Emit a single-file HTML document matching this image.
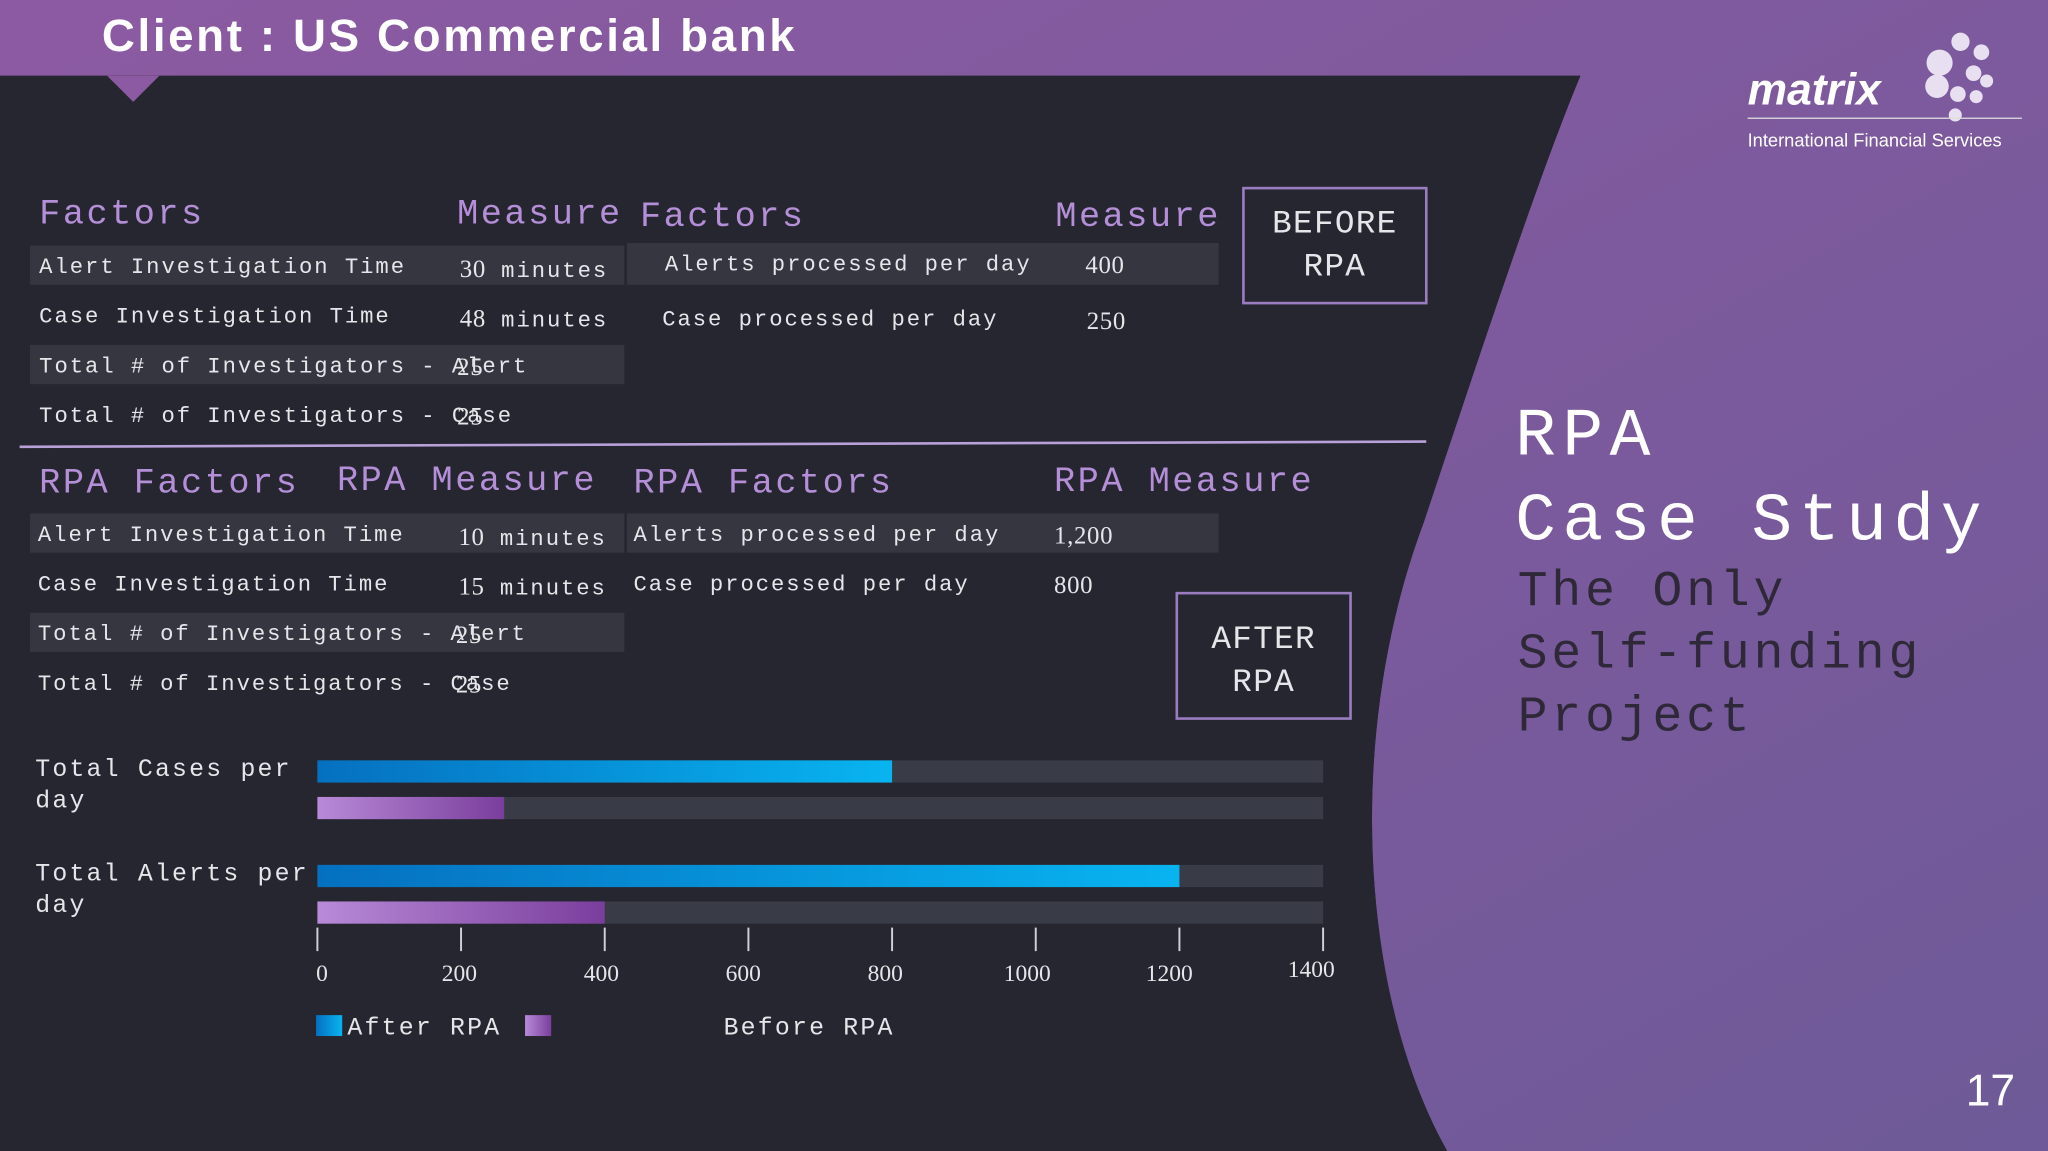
<!DOCTYPE html>
<html><head><meta charset="utf-8"><style>
html,body{margin:0;padding:0;background:#262630;overflow:hidden}
#stage{width:1568px;height:881px;position:relative;transform:scale(1.30612,1.30647);transform-origin:0 0;background:#262630;font-family:"Liberation Mono",monospace;color:#e6e6ea}
.a{position:absolute;white-space:nowrap}
.h{color:#b48fd8;font-size:27px;letter-spacing:1.9px;margin-top:4px}
.t{font-size:17px;letter-spacing:1.5px;margin-top:3px}
.n{font-family:"Liberation Serif",serif;font-size:19px;letter-spacing:0.5px}
.a.n{margin-top:3px}
.row{position:absolute;background:#363641}
.box{position:absolute;border:2px solid #9a7cc0;text-align:center;font-size:25px;line-height:33px;box-sizing:border-box;letter-spacing:1px}
</style></head><body>
<div id="stage">
<svg class="a" style="left:0;top:0" width="1568" height="881">
<defs><linearGradient id="pg" x1="0" y1="0" x2="1" y2="1"><stop offset="0" stop-color="#8c5aa2"/><stop offset="1" stop-color="#6e5a98"/></linearGradient></defs>
<path d="M0 0 H1568 V881 H1108 C1040 760 1030 560 1090 400 C1140 250 1180 130 1210 58 H0 Z" fill="url(#pg)"/>
<path d="M0 58 H1210 C1180 130 1140 250 1090 400 C1030 560 1040 760 1108 881 H0 Z" fill="#262630"/>
<path d="M82 58 L102 78 L122 58 Z" fill="#8c5aa2"/>
<line x1="15" y1="342" x2="1092" y2="338" stroke="#b8a0d8" stroke-width="2"/>
</svg>
<div class="a" style="left:78px;top:8px;font-family:'Liberation Sans',sans-serif;font-weight:bold;font-size:35px;letter-spacing:2px;color:#fff">Client : US Commercial bank</div>
<div class="a" style="left:1338px;top:50px;font-family:'Liberation Sans',sans-serif;font-weight:bold;font-style:italic;font-size:34px;color:#fff">matrix</div>
<svg class="a" style="left:1455px;top:20px" width="80" height="80"><g fill="#e8e0f0"><circle cx="30" cy="28" r="10"/><circle cx="46" cy="12" r="7"/><circle cx="62" cy="20" r="6"/><circle cx="28" cy="46" r="9"/><circle cx="56" cy="36" r="6"/><circle cx="66" cy="42" r="5"/><circle cx="44" cy="52" r="6"/><circle cx="58" cy="54" r="5"/><circle cx="42" cy="68" r="5"/></g></svg>
<div class="a" style="left:1338px;top:90px;width:210px;height:1px;background:#ddd"></div>
<div class="a" style="left:1338px;top:99px;font-family:'Liberation Sans',sans-serif;font-size:14px;color:#fff">International Financial Services</div>

<div class="row" style="left:23px;top:188px;width:455px;height:30px"></div>
<div class="row" style="left:480px;top:186px;width:453px;height:32px"></div>
<div class="row" style="left:23px;top:264px;width:455px;height:30px"></div>
<div class="row" style="left:23px;top:393px;width:455px;height:30px"></div>
<div class="row" style="left:480px;top:393px;width:453px;height:30px"></div>
<div class="row" style="left:23px;top:469px;width:455px;height:30px"></div>

<div class="a h" style="left:30px;top:146px">Factors</div>
<div class="a h" style="left:350px;top:146px">Measure</div>
<div class="a h" style="left:490px;top:148px">Factors</div>
<div class="a h" style="left:808px;top:148px">Measure</div>
<div class="a t" style="left:30px;top:193px">Alert Investigation Time</div>
<div class="a t" style="left:352px;top:193px"><span class="n">30</span> minutes</div>
<div class="a t" style="left:509px;top:191px">Alerts processed per day</div>
<div class="a n" style="left:831px;top:190px">400</div>
<div class="a t" style="left:30px;top:231px">Case Investigation Time</div>
<div class="a t" style="left:352px;top:231px"><span class="n">48</span> minutes</div>
<div class="a t" style="left:507px;top:233px">Case processed per day</div>
<div class="a n" style="left:832px;top:233px">250</div>
<div class="a t" style="left:30px;top:269px">Total # of Investigators - Alert</div>
<div class="a n" style="left:350px;top:268px">25</div>
<div class="a t" style="left:30px;top:307px">Total # of Investigators - Case</div>
<div class="a n" style="left:350px;top:306px">25</div>
<div class="box" style="left:951px;top:143px;width:142px;height:90px;padding-top:10px">BEFORE<br>RPA</div>

<div class="a h" style="left:30px;top:352px">RPA Factors</div>
<div class="a h" style="left:258px;top:350px">RPA Measure</div>
<div class="a h" style="left:485px;top:352px">RPA Factors</div>
<div class="a h" style="left:807px;top:351px">RPA Measure</div>
<div class="a t" style="left:29px;top:398px">Alert Investigation Time</div>
<div class="a t" style="left:351px;top:398px"><span class="n">10</span> minutes</div>
<div class="a t" style="left:485px;top:398px">Alerts processed per day</div>
<div class="a n" style="left:807px;top:397px">1,200</div>
<div class="a t" style="left:29px;top:436px">Case Investigation Time</div>
<div class="a t" style="left:351px;top:436px"><span class="n">15</span> minutes</div>
<div class="a t" style="left:485px;top:436px">Case processed per day</div>
<div class="a n" style="left:807px;top:435px">800</div>
<div class="a t" style="left:29px;top:474px">Total # of Investigators - Alert</div>
<div class="a n" style="left:349px;top:473px">25</div>
<div class="a t" style="left:29px;top:512px">Total # of Investigators - Case</div>
<div class="a n" style="left:349px;top:511px">25</div>
<div class="box" style="left:900px;top:453px;width:135px;height:98px;padding-top:18px">AFTER<br>RPA</div>

<div class="a" style="left:1160px;top:305px;font-size:52px;letter-spacing:5px;color:#fff">RPA</div>
<div class="a" style="left:1160px;top:370px;font-size:52px;letter-spacing:5px;color:#fff">Case Study</div>
<div class="a" style="left:1162px;top:430px;font-size:38px;line-height:48px;letter-spacing:3px;color:#2e2838">The Only<br>Self-funding<br>Project</div>
<div class="a" style="left:1505px;top:816px;font-family:'Liberation Sans',sans-serif;font-size:34px;color:#fff">17</div>

<svg id="chart" class="a" style="left:0;top:560px" width="1100" height="260"></svg>
</div>
<script>
const categories=["Total Cases per day","Total Alerts per day"];
const afterRPA=[800,1200];
const beforeRPA=[260,400];
const ticks=[0,200,400,600,800,1000,1200,1400];
const NS="http://www.w3.org/2000/svg";
const svg=document.getElementById('chart');
const x=v=>243+v*(1013-243)/1400;
function mk(t,a){const e=document.createElementNS(NS,t);for(const k in a)e.setAttribute(k,a[k]);svg.appendChild(e);return e;}
const defs=mk('defs',{});
defs.innerHTML='<linearGradient id="gb" x1="0" x2="1"><stop offset="0" stop-color="#0570c0"/><stop offset="1" stop-color="#08b4f0"/></linearGradient><linearGradient id="gv" x1="0" x2="1"><stop offset="0" stop-color="#b88ad8"/><stop offset="1" stop-color="#7a3e9c"/></linearGradient>';
const txtStyle={fill:'#e6e6ea','font-size':19,'font-family':'Liberation Mono, monospace','letter-spacing':1.7};
categories.forEach((c,i)=>{
  const y0=22+i*80;
  const words=c.split(' ');
  const l=mk('text',Object.assign({x:27,y:y0+12},txtStyle));
  l.textContent=words.slice(0,3).join(' ');
  
  
  const l2=mk('text',Object.assign({x:27,y:y0+36},txtStyle));
  l2.textContent=words.slice(3).join(' ');
  
  
  [[afterRPA,'url(#gb)',0],[beforeRPA,'url(#gv)',28]].forEach(([arr,f,off])=>{
    mk('rect',{x:x(0),y:y0+off,width:x(1400)-x(0),height:17,fill:'#393b47'});
    const r=mk('rect',{x:x(0),y:y0+off,width:x(arr[i])-x(0),height:17,fill:f});
    
    
  });
});
ticks.forEach((t,i)=>{
  mk('line',{x1:x(t),y1:150,x2:x(t),y2:168,stroke:'#cfcfd8','stroke-width':1.5});
  const tx=mk('text',{x:i?x(t)-i*1.3:x(t)-1,y:i==7?188:191,fill:'#e6e6ea','font-size':18,'font-family':'Liberation Serif, serif','text-anchor':i?'middle':'start'});
  tx.textContent=t;
  
  
});
const lg1=mk('rect',{x:242,y:217,width:20,height:16,fill:'url(#gb)'});


const lt1=mk('text',Object.assign({x:266,y:232},txtStyle));
lt1.textContent='After RPA';


const lg2=mk('rect',{x:402,y:217,width:20,height:16,fill:'url(#gv)'});


const lt2=mk('text',Object.assign({x:554,y:232},txtStyle));
lt2.textContent='Before RPA';


</script>
</body></html>
